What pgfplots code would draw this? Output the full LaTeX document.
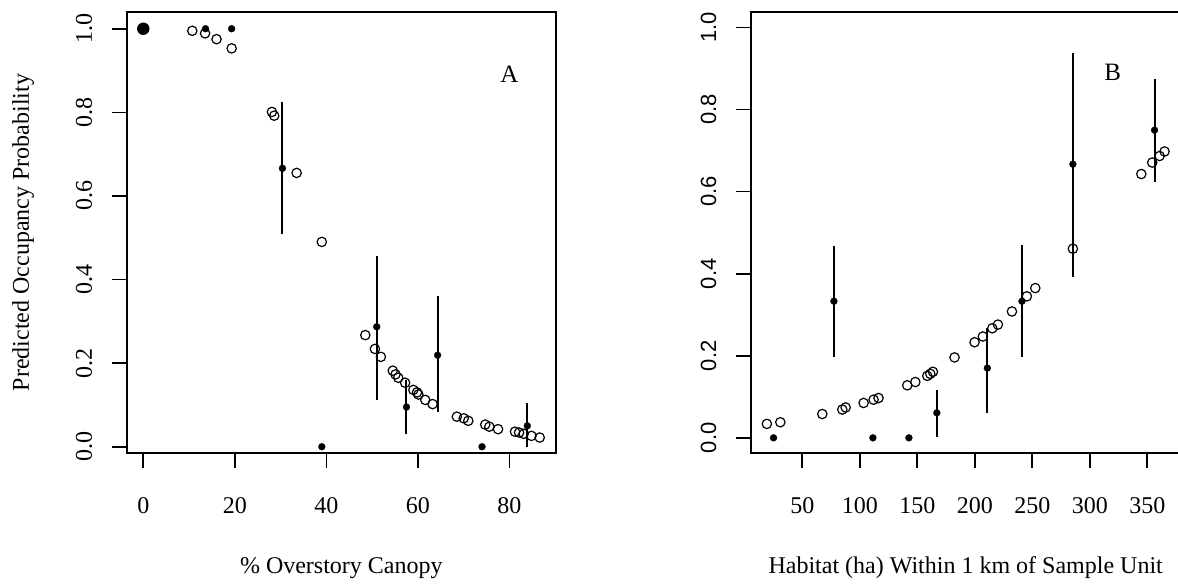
\documentclass[border=0pt]{standalone}
\usepackage{fontspec}
\setmainfont{Liberation Serif}
\newfontfamily\sansf{Liberation Sans}
\usepackage{pgfplots}
\pgfplotsset{compat=1.18}

\pgfplotsset{
  rstyle/.style={
    scale only axis, height=220.5pt, anchor=south west,
    axis line style={line width=0.8pt, black},
    tick style={line width=0.8pt, black},
    tick align=outside, major tick length=7.5pt,
    xtick pos=bottom, ytick pos=left,
    /pgf/number format/assume math mode=true,
    xticklabel style={anchor=base, yshift=-22.5pt, font=\fontsize{12}{14}\selectfont},
    yticklabel style={xshift=-10pt, rotate=90, anchor=base, font=\fontsize{12}{14}\selectfont,
      /pgf/number format/fixed, /pgf/number format/fixed zerofill, /pgf/number format/precision=1},
    every axis x label/.style={at={(axis description cs:0.5,0)}, anchor=base, yshift=-60pt, font=\fontsize{12}{14}\selectfont},
    every axis y label/.style={at={(axis description cs:0,0.5)}, xshift=-49pt, rotate=90, anchor=base, font=\fontsize{12}{14}\selectfont},
    ytick={0,0.2,0.4,0.6,0.8,1.0},
  },
  openpt/.style={only marks, mark=o, mark size=2.35pt, mark options={line width=0.6pt, draw=black, fill=none}},
  fillpt/.style={only marks, mark=*, mark size=1.75pt, mark options={draw=black, fill=black, line width=0.1pt}},
  errpt/.style={only marks, mark=*, mark size=1.75pt, mark options={draw=black, fill=black, line width=0.1pt},
    error bars/.cd, y dir=both, y explicit, error mark=none, error bar style={line width=1pt, black}},
}

\begin{document}
\begin{tikzpicture}
\path[use as bounding box] (0,0) rectangle (589pt,292.5pt);
\clip (0,0) rectangle (589pt,292.5pt);

% Panel A
\begin{axis}[rstyle, at={(63.5pt,66pt)}, width=214.35pt,
  xmin=-3.56, xmax=90.1, ymin=-0.015, ymax=1.04,
  xtick={0,20,40,60,80},
  xlabel={\% Overstory Canopy},
  ylabel={Predicted Occupancy Probability}]
\addplot[openpt] coordinates {
(10.7,0.995) (13.5,0.989) (16.0,0.975) (19.3,0.953)
(28.1,0.801) (28.6,0.792) (33.5,0.655) (39.0,0.490)
(48.5,0.267) (50.6,0.234) (51.9,0.215)
(54.5,0.182) (55.1,0.173) (55.7,0.165) (57.2,0.153)
(59.0,0.136) (59.8,0.130) (60.1,0.125) (61.6,0.112) (63.2,0.102)
(68.5,0.072) (70.0,0.068) (71.0,0.062)
(74.7,0.053) (75.6,0.048) (77.5,0.042)
(81.2,0.036) (82.1,0.034) (83.1,0.031) (84.8,0.026) (86.6,0.022)
};
\addplot[only marks, mark=*, mark size=2.9pt, mark options={draw=black, fill=black}] coordinates {(0,1.0)};
\addplot[fillpt] coordinates {(13.6,1.0) (19.3,1.0) (39.0,0.0) (74.0,0.0)};
\addplot[errpt] coordinates {
(30.4,0.666) += (0,0.159) -= (0,0.158)
(51.0,0.287) += (0,0.170) -= (0,0.174)
(57.5,0.095) += (0,0.064) -= (0,0.064)
(64.3,0.219) += (0,0.142) -= (0,0.137)
(83.9,0.050) += (0,0.054) -= (0,0.050)
};
\node[font=\fontsize{12.5}{14}\selectfont] at (axis cs:80,0.89) {A};
\end{axis}

% Panel B
\begin{axis}[rstyle, at={(375.5pt,66pt)}, width=214.7pt,
  xmin=5.4, xmax=378.8, ymin=-0.037, ymax=1.038,
  xtick={50,100,150,200,250,300,350},
  yticklabel style={font=\sansf\fontsize{11}{13}\selectfont},
  xlabel={Habitat (ha) Within 1 km of Sample Unit}]
\addplot[openpt] coordinates {
(19.2,0.034) (30.9,0.038) (67.4,0.058) (84.8,0.069) (87.7,0.074)
(103.3,0.085) (112.0,0.093) (116.3,0.097)
(141.3,0.128) (148.3,0.136) (158.7,0.151) (161.3,0.156) (163.6,0.161)
(182.4,0.196) (199.8,0.233) (207.0,0.247) (215.2,0.267) (220.1,0.276)
(232.3,0.308) (245.3,0.345) (252.6,0.365) (285.3,0.461)
(344.8,0.643) (354.3,0.671) (360.7,0.687) (365.0,0.698)
};
\addplot[fillpt] coordinates {(25.0,0.0) (111.4,0.0) (142.7,0.0)};
\addplot[errpt] coordinates {
(77.5,0.333) += (0,0.135) -= (0,0.137)
(167.0,0.061) += (0,0.056) -= (0,0.058)
(210.9,0.170) += (0,0.097) -= (0,0.110)
(241.0,0.333) += (0,0.136) -= (0,0.137)
(285.3,0.667) += (0,0.272) -= (0,0.275)
(356.3,0.750) += (0,0.125) -= (0,0.126)
};
\node[font=\fontsize{12.5}{14}\selectfont] at (axis cs:320,0.89) {B};
\end{axis}
\end{tikzpicture}
\end{document}
